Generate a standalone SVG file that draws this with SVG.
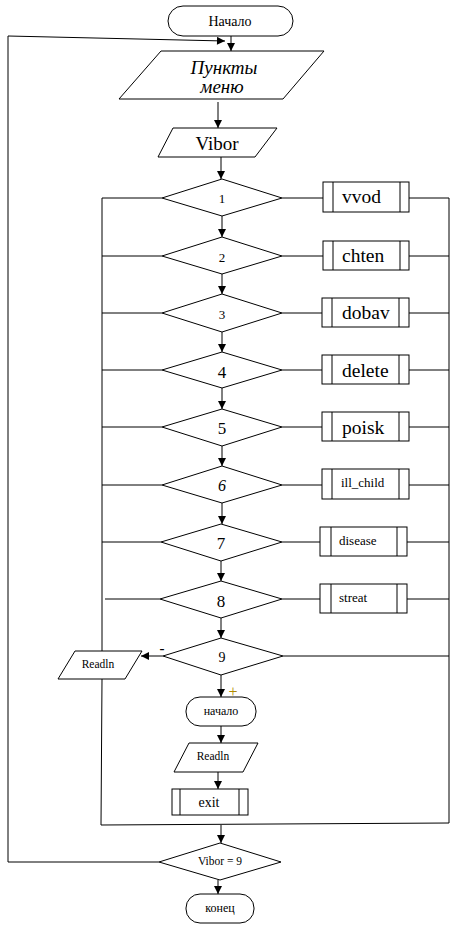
<svg xmlns="http://www.w3.org/2000/svg" width="455" height="926" viewBox="0 0 455 926">
<defs>
<marker id="arr" viewBox="0 0 10 10" refX="10" refY="5" markerWidth="9" markerHeight="8" markerUnits="userSpaceOnUse" orient="auto">
<path d="M0,0 L10,5 L0,10 z" fill="#000"/>
</marker>
</defs>
<style>
.s{fill:#fff;stroke:#000;stroke-width:1}
.c{fill:none;stroke:#000;stroke-width:1}
.a{fill:none;stroke:#000;stroke-width:1;marker-end:url(#arr)}
text{font-family:'Liberation Serif','Times New Roman',serif;fill:#000}
.m{text-anchor:middle}
.big{font-size:19.5px}
.sm{font-size:13px}
.num{font-size:17px}
.nsm{font-size:13px}
.tiny{font-size:11.5px}
.t12{font-size:12px}
.t14{font-size:14px}
.it{font-style:italic}
</style>
<rect width="455" height="926" fill="#fff"/>

<g id="connectors">
<polyline class="c" points="159,862 8,862 8,36"/>
<line class="a" x1="8" y1="36" x2="225" y2="41"/>
<line class="a" x1="231" y1="36" x2="231" y2="51"/>
<line class="a" x1="218" y1="102" x2="218" y2="128"/>
<line class="a" x1="221" y1="157" x2="221" y2="179"/>
<line class="a" x1="222" y1="216" x2="222" y2="237"/>
<line class="a" x1="222" y1="274" x2="222" y2="294"/>
<line class="a" x1="222" y1="332" x2="222" y2="352"/>
<line class="a" x1="222" y1="388" x2="222" y2="409"/>
<line class="a" x1="222" y1="446" x2="222" y2="466"/>
<line class="a" x1="222" y1="503" x2="222" y2="524"/>
<line class="a" x1="221" y1="561" x2="221" y2="581"/>
<line class="a" x1="221" y1="618" x2="221" y2="638"/>
<line class="a" x1="221" y1="675" x2="221" y2="697"/>
<line class="a" x1="221" y1="726" x2="221" y2="743"/>
<line class="a" x1="218" y1="772" x2="218" y2="789"/>
<line class="a" x1="221" y1="825" x2="221" y2="843"/>
<line class="a" x1="218" y1="880" x2="218" y2="894"/>
<line class="a" x1="163" y1="656" x2="141" y2="656"/>
<line class="c" x1="102" y1="198" x2="102" y2="651"/>
<line class="c" x1="102" y1="679" x2="101" y2="825"/>
<line class="c" x1="101" y1="825" x2="449" y2="823"/>
<line class="c" x1="449" y1="198" x2="449" y2="823"/>
<line class="c" x1="102" y1="198" x2="162" y2="198"/>
<line class="c" x1="102" y1="256" x2="162" y2="256"/>
<line class="c" x1="102" y1="313" x2="162" y2="313"/>
<line class="c" x1="102" y1="370" x2="162" y2="370"/>
<line class="c" x1="102" y1="427" x2="162" y2="427"/>
<line class="c" x1="102" y1="485" x2="162" y2="485"/>
<line class="c" x1="102" y1="542" x2="161" y2="542"/>
<line class="c" x1="105" y1="599" x2="160" y2="599"/>
<line class="c" x1="282" y1="198" x2="323" y2="198"/>
<line class="c" x1="409" y1="198" x2="449" y2="198"/>
<line class="c" x1="282" y1="256" x2="323" y2="256"/>
<line class="c" x1="409" y1="256" x2="449" y2="256"/>
<line class="c" x1="282" y1="313" x2="322" y2="313"/>
<line class="c" x1="409" y1="313" x2="449" y2="313"/>
<line class="c" x1="282" y1="370" x2="322" y2="370"/>
<line class="c" x1="409" y1="370" x2="449" y2="370"/>
<line class="c" x1="282" y1="427" x2="322" y2="427"/>
<line class="c" x1="409" y1="427" x2="449" y2="427"/>
<line class="c" x1="282" y1="485" x2="322" y2="485"/>
<line class="c" x1="409" y1="485" x2="449" y2="485"/>
<line class="c" x1="282" y1="542" x2="320" y2="542"/>
<line class="c" x1="407" y1="542" x2="449" y2="542"/>
<line class="c" x1="282" y1="599" x2="320" y2="599"/>
<line class="c" x1="407" y1="599" x2="449" y2="599"/>
<line class="c" x1="283" y1="656" x2="449" y2="656"/>
<text x="162" y="653" class="m" style="font-size:15px;font-weight:bold">-</text>
<text x="233" y="697" class="m" style="font-size:16px;fill:#b08a00">+</text>
</g>

<g id="start">
<rect class="s" x="168" y="6" width="125" height="30" rx="15"/>
<text x="230" y="26" class="m t14">Начало</text>
</g>
<g id="menu">
<polygon class="s" points="161,51 324,51 283,99 119,99"/>
<text x="224" y="74" class="m it" style="font-size:19px">Пункты</text>
<text x="222" y="93" class="m it" style="font-size:19px">меню</text>
</g>
<g id="vibor">
<polygon class="s" points="173,128 277,128 255,157 158,157"/>
<text x="217" y="150" class="m" style="font-size:19px">Vibor</text>
</g>

<g id="d1"><polygon class="s" points="162,198 222,179 282,198 222,216"/><text x="222" y="203" class="m nsm">1</text></g>
<g id="d2"><polygon class="s" points="162,256 222,237 282,256 222,274"/><text x="222" y="262" class="m nsm">2</text></g>
<g id="d3"><polygon class="s" points="162,313 222,294 282,313 222,332"/><text x="222" y="319" class="m nsm">3</text></g>
<g id="d4"><polygon class="s" points="162,370 222,352 282,370 222,388"/><text x="222" y="378" class="m num">4</text></g>
<g id="d5"><polygon class="s" points="162,427 222,409 282,427 222,446"/><text x="222" y="434" class="m num">5</text></g>
<g id="d6"><polygon class="s" points="162,485 222,466 282,485 222,503"/><text x="222" y="491" class="m it" style="font-size:16px">6</text></g>
<g id="d7"><polygon class="s" points="161,542 221,524 282,542 221,561"/><text x="221" y="549" class="m num">7</text></g>
<g id="d8"><polygon class="s" points="160,599 221,581 282,599 221,618"/><text x="221" y="607" class="m num">8</text></g>
<g id="d9"><polygon class="s" points="163,656 221,638 283,656 221,675"/><text x="222" y="662" class="m t14">9</text></g>

<g id="vvod"><rect class="s" x="323" y="182" width="86" height="30"/><path class="c" d="M333,182V212M400,182V212"/><text x="342" y="203" class="big">vvod</text></g>
<g id="chten"><rect class="s" x="323" y="241" width="86" height="29"/><path class="c" d="M333,241V270M400,241V270"/><text x="342" y="262" class="big">chten</text></g>
<g id="dobav"><rect class="s" x="322" y="298" width="87" height="29"/><path class="c" d="M332,298V327M399,298V327"/><text x="342" y="319" class="big">dobav</text></g>
<g id="delete"><rect class="s" x="322" y="355" width="87" height="29"/><path class="c" d="M332,355V384M399,355V384"/><text x="342" y="377" class="big">delete</text></g>
<g id="poisk"><rect class="s" x="322" y="412" width="87" height="29"/><path class="c" d="M332,412V441M399,412V441"/><text x="342" y="434" class="big">poisk</text></g>
<g id="ill_child"><rect class="s" x="322" y="469" width="87" height="30"/><path class="c" d="M332,469V499M399,469V499"/><text x="341" y="487" class="sm">ill_child</text></g>
<g id="disease"><rect class="s" x="320" y="527" width="87" height="29"/><path class="c" d="M331,527V556M397,527V556"/><text x="339" y="545" class="sm">disease</text></g>
<g id="streat"><rect class="s" x="320" y="584" width="87" height="29"/><path class="c" d="M331,584V613M397,584V613"/><text x="339" y="602" class="sm">streat</text></g>

<g id="readln_left">
<polygon class="s" points="75,651 142,651 125,679 58,679"/>
<text x="98" y="668" class="m tiny">Readln</text>
</g>
<g id="nachalo2">
<rect class="s" x="186" y="697" width="70" height="29" rx="14"/>
<text x="221" y="715" class="m t12">начало</text>
</g>
<g id="readln2">
<polygon class="s" points="189,743 258,743 243,772 174,772"/>
<text x="213" y="760" class="m tiny">Readln</text>
</g>
<g id="exit">
<rect class="s" x="172" y="789" width="76" height="26"/>
<path class="c" d="M180,789V815M239,789V815"/>
<text x="209" y="807" class="m t14">exit</text>
</g>
<g id="check">
<polygon class="s" points="159,862 220,843 281,862 220,880"/>
<text x="220" y="865" class="m tiny">Vibor = 9</text>
</g>
<g id="end">
<rect class="s" x="186" y="894" width="68" height="29" rx="14"/>
<text x="220" y="912" class="m t12">конец</text>
</g>
</svg>
